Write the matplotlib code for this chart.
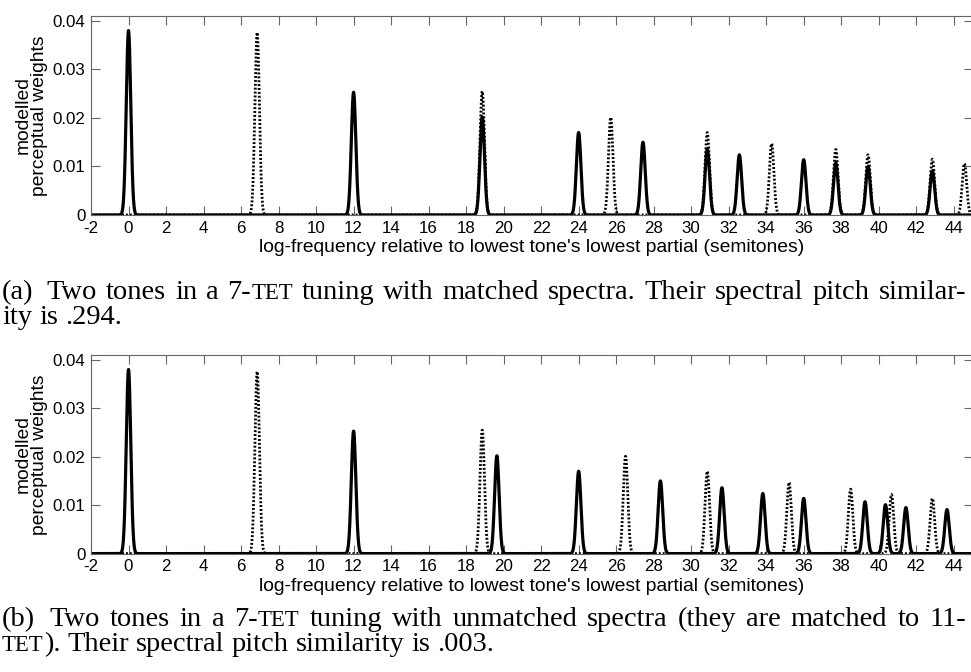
import re
import numpy as np
import matplotlib.pyplot as plt

# peak positions (semitones) and heights
a_solid_pos = [0, 12, 18.86, 24, 27.43, 30.86, 32.57, 36, 37.71, 39.43, 42.86]
a_solid_h = [0.0380, 0.0253, 0.0202, 0.0170, 0.0150, 0.0136, 0.0124, 0.0114, 0.0107, 0.0100, 0.0091]
a_dot_pos = [6.86, 18.86, 25.71, 30.86, 34.29, 37.71, 39.43, 42.86, 44.57]
a_dot_h = [0.0376, 0.0255, 0.0201, 0.0170, 0.0147, 0.0135, 0.0124, 0.0115, 0.0106]

b_solid_pos = [0, 12, 19.64, 24, 28.36, 31.64, 33.82, 36, 39.27, 40.36, 41.45, 43.64]
b_solid_h = [0.0380, 0.0253, 0.0202, 0.0170, 0.0150, 0.0136, 0.0124, 0.0114, 0.0107, 0.0101, 0.0095, 0.0091]
b_dot_pos = [6.86, 18.86, 26.5, 30.86, 35.22, 38.5, 40.68, 42.86]
b_dot_h = [0.0376, 0.0255, 0.0201, 0.0170, 0.0147, 0.0133, 0.0122, 0.0114]

xticks = list(range(-2, 45, 2))
yticks = [0, 0.01, 0.02, 0.03, 0.04]
ytick_labels = ['0', '0.01', '0.02', '0.03', '0.04']

cap_a = ["(a) Two tones in a 7-<TET> tuning with matched spectra. Their spectral pitch similar-",
         "ity is .294."]
cap_b = ["(b) Two tones in a 7-<TET> tuning with unmatched spectra (they are matched to 11-",
         "<TET>). Their spectral pitch similarity is .003."]

SIGMA = 0.12  # smoothing width of each partial
W, H = 971, 672
SANS = 'Liberation Sans'
SERIF = 'Liberation Serif'

fig = plt.figure(figsize=(W / 100, H / 100), dpi=100)
grid = np.linspace(-2, 45, 8000)


def smooth(pos, h):
    y = np.zeros_like(grid)
    for p, hh in zip(pos, h):
        y += hh * np.exp(-(grid - p) ** 2 / (2 * SIGMA ** 2))
    return y


def panel(top_px, bottom_px, solid, dotted):
    ax = fig.add_axes([91 / W, 1 - bottom_px / H, 881.5 / W, (bottom_px - top_px) / H])
    ax.plot(grid, smooth(*dotted), color='k', lw=2.0, ls=(0, (0.7, 0.7)))
    ax.plot(grid, smooth(*solid), color='k', lw=2.3)
    ax.set_xlim(-2, 45)
    ax.set_ylim(0, 0.041)
    ax.set_xticks(xticks)
    ax.set_xticklabels([str(t) for t in xticks])
    ax.set_yticks(yticks)
    ax.set_yticklabels(ytick_labels)
    ax.tick_params(direction='in', length=6.5, width=0.8, color='#666666',
                   top=True, right=True, labelsize=12.2, pad=4)
    for lab in ax.get_xticklabels() + ax.get_yticklabels():
        lab.set_family(SANS)
    for s in ax.spines.values():
        s.set_color('#666666')
        s.set_linewidth(0.8)
    ax.set_xlabel("log-frequency relative to lowest tone's lowest partial (semitones)",
                  family=SANS, fontsize=13.9)
    ax.set_ylabel("modelled\nperceptual weights", family=SANS, fontsize=13.9,
                  linespacing=0.95)
    ax.xaxis.label.set_verticalalignment('baseline')
    hgt = bottom_px - top_px
    ax.xaxis.set_label_coords(0.5, -37.2 / hgt)
    ax.yaxis.set_label_coords(-43 / 881.5, 0.5)
    return ax


panel(16, 215, (a_solid_pos, a_solid_h), (a_dot_pos, a_dot_h))
panel(355, 553.6, (b_solid_pos, b_solid_h), (b_dot_pos, b_dot_h))

# captions: serif text with small caps, first line justified
renderer = fig.canvas.get_renderer()
CAP = 20.5


def width_of(t):
    return t.get_window_extent(renderer).width


def caption_line(y_px, line, justify, x0=2, x1=966):
    words = line.split(' ')
    placed = []
    for w in words:
        parts = [p for p in re.split(r'(<[^>]+>)', w) if p]
        texts = []
        for p in parts:
            sc = p.startswith('<')
            t = fig.text(0, 1 - y_px / H, p[1:-1] if sc else p, family=SERIF,
                         fontsize=CAP * 0.8 if sc else CAP, va='baseline')
            texts.append(t)
        placed.append(texts)
    probe = fig.text(0, 0, 'n n', family=SERIF, fontsize=CAP)
    probe2 = fig.text(0, 0, 'nn', family=SERIF, fontsize=CAP)
    space = width_of(probe) - width_of(probe2)
    probe.remove()
    probe2.remove()
    wws = [sum(width_of(t) for t in texts) for texts in placed]
    extra = [0.6 * space if words[i].startswith('(') and len(words[i]) == 3 else 0
             for i in range(len(words) - 1)]
    if justify:
        gap = (x1 - x0 - sum(wws) - sum(extra)) / (len(words) - 1)
    else:
        gap = space
    x = x0
    for i, texts in enumerate(placed):
        for t in texts:
            t.set_x(x / W)
            x += width_of(t)
        if i < len(extra):
            x += gap + extra[i]


caption_line(299, cap_a[0], True)
caption_line(324, cap_a[1], False)
caption_line(626, cap_b[0], True)
caption_line(651, cap_b[1], False)

fig.savefig('out.png', dpi=100)
